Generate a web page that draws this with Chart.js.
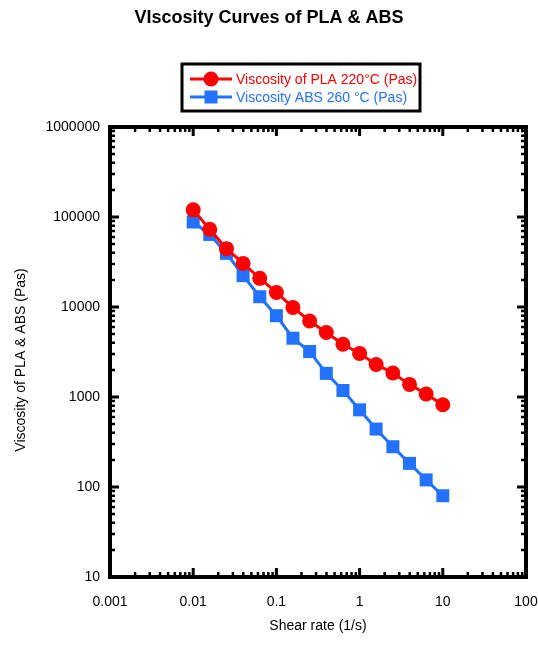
<!DOCTYPE html>
<html lang="en">
<head>
  <meta charset="UTF-8">
  <title>Viscosity Curves of PLA & ABS</title>
  <script src="https://cdn.jsdelivr.net/npm/chart.js"></script>
  <style>
    html, body {
      margin: 0;
      padding: 0;
      background: #fff;
    }
    #wrap {
      width: 538px;
      height: 645px;
    }
  </style>
</head>
<body>
  <div id="wrap"><canvas id="viscChart" width="538" height="645"></canvas></div>

  <script>
    // shear rate (1/s)
    const shearRate = [0.01, 0.0158, 0.0251, 0.0398, 0.0631, 0.1, 0.158, 0.251,
                       0.398, 0.631, 1, 1.58, 2.51, 3.98, 6.31, 10];
    // viscosity (Pas)
    const plaViscosity = [120000, 73000, 44500, 30500, 20800, 14500, 9900, 7000,
                          5200, 3850, 3050, 2300, 1850, 1380, 1080, 820];
    const absViscosity = [88000, 64000, 39500, 22300, 13000, 8000, 4500, 3200,
                          1830, 1180, 720, 440, 280, 183, 120, 80];

    const seriesNames = ['Viscosity of PLA 220°C (Pas)', 'Viscosity ABS 260 °C (Pas)'];
    const xTickLabels = ['0.001', '0.01', '0.1', '1', '10', '100'];
    const yTickLabels = ['10', '100', '1000', '10000', '100000', '1000000'];

    const RED = '#ff0000';
    const BLUE = '#2272ff';
    const FONT = '"Liberation Sans", Arial, sans-serif';

    function toPoints(xs, ys) {
      return xs.map((v, i) => ({ x: v, y: ys[i] }));
    }

    // box, inward ticks, labels, title and legend
    const framePlugin = {
      id: 'frame',
      afterDraw(chart) {
        const { ctx, chartArea: a, scales: { x, y } } = chart;
        ctx.save();
        ctx.strokeStyle = '#000';
        ctx.lineCap = 'butt';

        // ticks on all four sides
        const xMaj = xTickLabels.map(Number);
        const yMaj = yTickLabels.map(Number);
        const minorOf = majors => {
          const out = [];
          for (let i = 0; i < majors.length - 1; i++) {
            for (let m = 2; m <= 9; m++) out.push(majors[i] * m);
          }
          return out;
        };
        const drawX = (vals, len, w) => {
          ctx.lineWidth = w;
          vals.forEach(v => {
            const px = x.getPixelForValue(v);
            ctx.beginPath();
            ctx.moveTo(px, a.bottom); ctx.lineTo(px, a.bottom - len);
            ctx.moveTo(px, a.top); ctx.lineTo(px, a.top + len);
            ctx.stroke();
          });
        };
        const drawY = (vals, len, w) => {
          ctx.lineWidth = w;
          vals.forEach(v => {
            const py = y.getPixelForValue(v);
            ctx.beginPath();
            ctx.moveTo(a.left, py); ctx.lineTo(a.left + len, py);
            ctx.moveTo(a.right, py); ctx.lineTo(a.right - len, py);
            ctx.stroke();
          });
        };
        drawX(minorOf(xMaj), 5, 2.5);
        drawX(xMaj, 9, 3);
        drawY(minorOf(yMaj), 5, 2.5);
        drawY(yMaj, 9, 3);

        ctx.lineWidth = 4;
        ctx.strokeRect(a.left, a.top, a.right - a.left, a.bottom - a.top);

        // tick labels
        ctx.fillStyle = '#000';
        ctx.font = '14px ' + FONT;
        ctx.textAlign = 'center';
        ctx.textBaseline = 'middle';
        xTickLabels.forEach(t => {
          ctx.fillText(t, x.getPixelForValue(Number(t)), 602);
        });
        ctx.textAlign = 'right';
        yTickLabels.forEach(t => {
          ctx.fillText(t, 100, y.getPixelForValue(Number(t)));
        });

        // axis titles
        ctx.textAlign = 'center';
        ctx.fillText('Shear rate (1/s)', 318, 626);
        ctx.save();
        ctx.translate(21, 360);
        ctx.rotate(-Math.PI / 2);
        ctx.fillText('Viscosity of PLA & ABS (Pas)', 0, 0);
        ctx.restore();

        // title
        ctx.font = 'bold 18px ' + FONT;
        ctx.fillText('VIscosity Curves of PLA & ABS', 269, 18);

        // legend
        ctx.lineWidth = 3;
        ctx.strokeRect(182, 64, 238, 47);
        const rows = [
          { name: seriesNames[0], color: RED, yy: 79, shape: 'circle' },
          { name: seriesNames[1], color: BLUE, yy: 97, shape: 'rect' }
        ];
        ctx.font = '14px ' + FONT;
        ctx.textAlign = 'left';
        rows.forEach(r => {
          ctx.strokeStyle = r.color;
          ctx.fillStyle = r.color;
          ctx.lineWidth = 3;
          ctx.beginPath();
          ctx.moveTo(190, r.yy); ctx.lineTo(232, r.yy);
          ctx.stroke();
          if (r.shape === 'circle') {
            ctx.beginPath();
            ctx.arc(211, r.yy, 7.5, 0, Math.PI * 2);
            ctx.fill();
          } else {
            ctx.fillRect(211 - 6.5, r.yy - 6.5, 13, 13);
          }
          ctx.fillText(r.name, 236, r.yy + 1);
        });

        ctx.restore();
      }
    };

    new Chart(document.getElementById('viscChart'), {
      type: 'line',
      data: {
        datasets: [
          {
            label: seriesNames[0],
            data: toPoints(shearRate, plaViscosity),
            borderColor: RED,
            backgroundColor: RED,
            borderWidth: 3,
            pointStyle: 'circle',
            pointRadius: 7.5,
            pointBorderWidth: 0,
            tension: 0
          },
          {
            label: seriesNames[1],
            data: toPoints(shearRate, absViscosity),
            borderColor: BLUE,
            backgroundColor: BLUE,
            borderWidth: 3,
            pointStyle: 'rect',
            pointRadius: 9.2,
            pointBorderWidth: 0,
            tension: 0
          }
        ]
      },
      options: {
        responsive: false,
        animation: false,
        layout: {
          padding: { left: 110, right: 12, top: 127, bottom: 68 }
        },
        plugins: {
          legend: { display: false },
          title: { display: false },
          tooltip: { enabled: false }
        },
        scales: {
          x: { type: 'logarithmic', min: 0.001, max: 100, display: false },
          y: { type: 'logarithmic', min: 10, max: 1000000, display: false }
        }
      },
      plugins: [framePlugin]
    });
  </script>
</body>
</html>
